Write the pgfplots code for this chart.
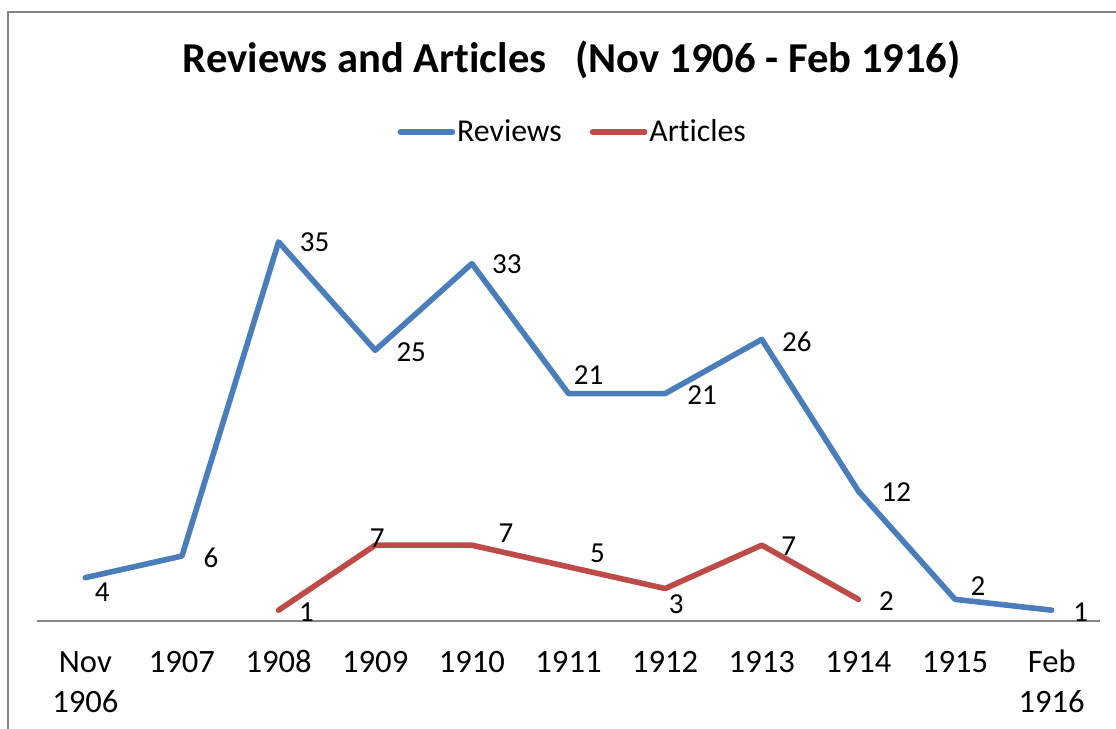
\documentclass[border=0pt]{standalone}
\usepackage{fontspec}
\setmainfont{Carlito}[Ligatures={NoCommon}]
\usepackage{pgfplots}
\usepackage{pgfplotstable}
\pgfplotsset{compat=1.18}
\definecolor{revblue}{RGB}{74,126,187}
\definecolor{artred}{RGB}{190,75,72}
\definecolor{framegray}{RGB}{134,134,134}
\newcommand{\twol}[2]{\setlength{\tabcolsep}{0pt}\begin{tabular}[t]{c}#1\\#2\end{tabular}}

\pgfplotstableread{
x y lab dx dy
0 4 4 8.5 -7.5
1 6 6 14.5 -1
2 35 35 18 0
3 25 25 18 -1
4 33 33 17.5 -0.5
5 21 21 10 9
6 21 21 18.5 -1
7 26 26 17.5 -1
8 12 12 19 -0.5
9 2 2 11.5 6.5
10 1 1 14.5 -1
}\reviews

\pgfplotstableread{
x y lab dx dy
2 1 1 14 -1
3 7 7 1 3.5
4 7 7 17 6
5 5 5 14.5 7
6 3 3 5.5 -8
7 7 7 13.5 -0.5
8 2 2 14 -1
}\articles

\begin{document}
\begin{tikzpicture}
\useasboundingbox (0pt,0pt) rectangle (558pt,-364.5pt);
\draw[framegray, line width=0.75pt] (4pt,-380pt) -- (4pt,-6pt) -- (570pt,-6pt);
\begin{axis}[
  at={(18.5pt,-310.5pt)}, anchor=south west,
  scale only axis, width=531.5pt, height=216.6pt,
  xmin=-0.5, xmax=10.5, ymin=0, ymax=40,
  axis x line*=bottom, axis y line=none,
  x axis line style={framegray, line width=0.75pt, -},
  xtick={0,...,10}, major tick length=0pt,
  xticklabels={{\twol{Nov}{1906}},1907,1908,1909,1910,1911,1912,1913,1914,1915,{\twol{Feb}{1916}}},
  xticklabel style={font=\fontsize{16.3}{20}\selectfont, anchor=base, yshift=-25.5pt, inner sep=0pt},
  ytick=\empty,
  clip=false,
  legend style={draw=none, fill=none, at={(0.504,1.1295)}, anchor=center, legend columns=-1,
    font=\fontsize{15.9}{18}\selectfont, nodes={inner sep=1pt},
    /tikz/every even column/.append style={column sep=13pt}},
  legend image code/.code={\draw[#1, line width=2.8pt, line cap=round] (0pt,0pt) -- (26pt,0pt);},
]
\addplot[revblue, line width=2.8pt, line join=round, line cap=round,
  nodes near coords, point meta=explicit symbolic,
  visualization depends on={\thisrow{dx} \as \dx},
  visualization depends on={\thisrow{dy} \as \dy},
  every node near coord/.append style={anchor=center, inner sep=0pt, xshift=\dx pt, yshift=\dy pt, font=\fontsize{14.5}{16}\selectfont, text=black}]
  table[x=x, y=y, meta=lab] {\reviews};
\addlegendentry{Reviews}
\addplot[artred, line width=2.8pt, line join=round, line cap=round,
  nodes near coords, point meta=explicit symbolic,
  visualization depends on={\thisrow{dx} \as \dx},
  visualization depends on={\thisrow{dy} \as \dy},
  every node near coord/.append style={anchor=center, inner sep=0pt, xshift=\dx pt, yshift=\dy pt, font=\fontsize{14.5}{16}\selectfont, text=black}]
  table[x=x, y=y, meta=lab] {\articles};
\addlegendentry{Articles}
\node[font=\bfseries\fontsize{21.3}{24}\selectfont, anchor=center] at (axis description cs:0.503,1.295) {Reviews and Articles\ \ \ (Nov 1906 - Feb 1916)};
\end{axis}
\end{tikzpicture}
\end{document}
